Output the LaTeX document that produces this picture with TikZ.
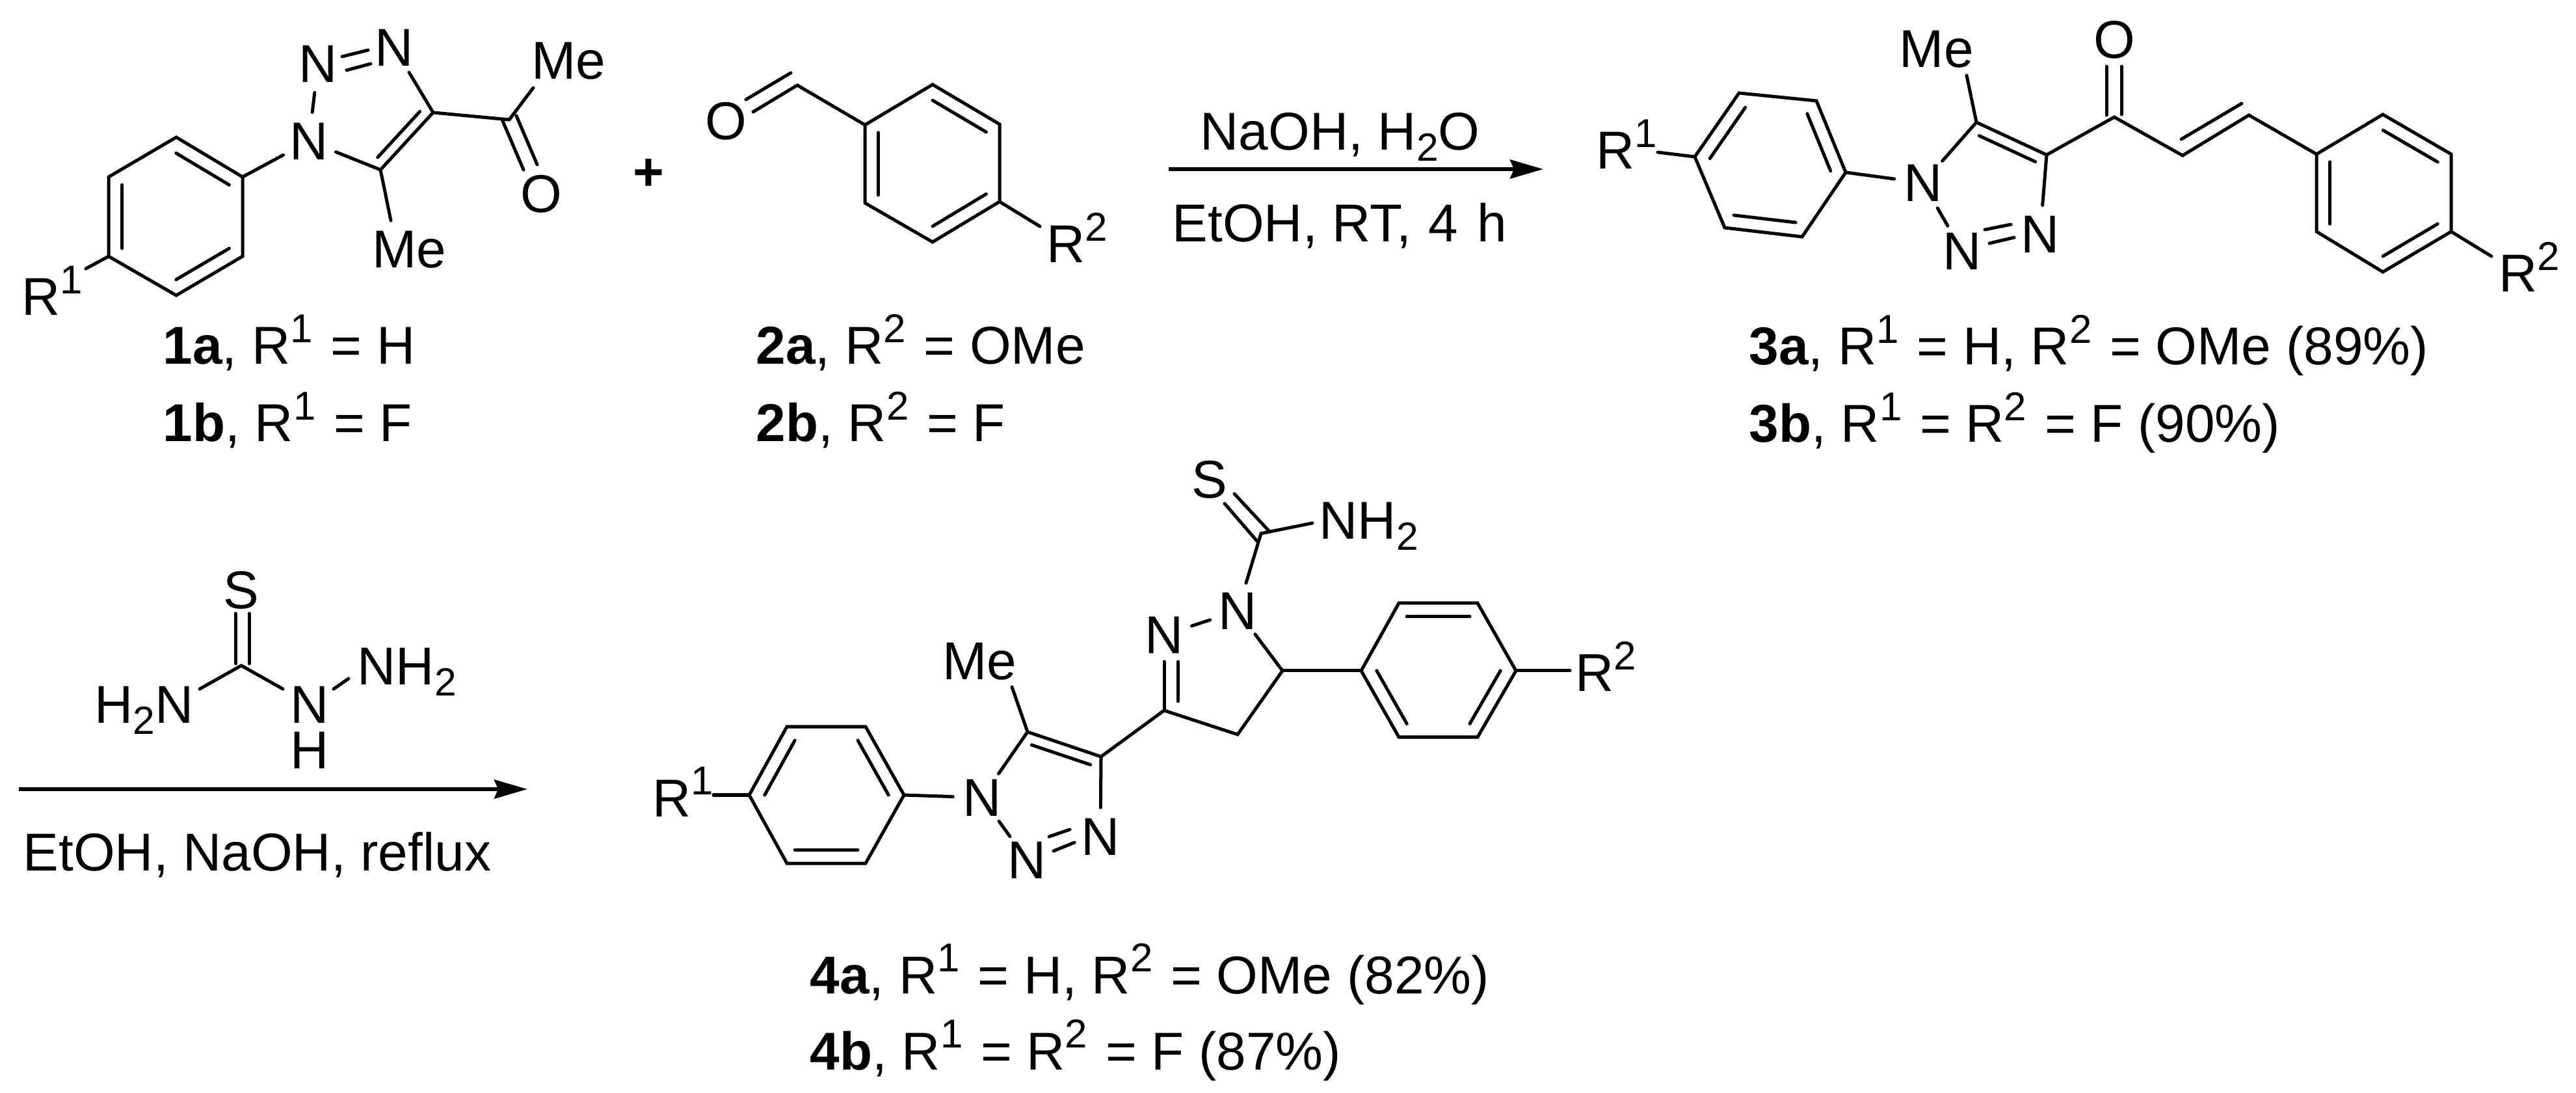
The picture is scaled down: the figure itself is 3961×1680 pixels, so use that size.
\documentclass[tikz,border=0pt]{standalone}
\usepackage{fontspec}
\setmainfont{Liberation Sans}
\usetikzlibrary{calc,arrows.meta}
\newcommand{\Sp}[1]{\raisebox{9.5pt}{\fontsize{17.6pt}{17.6pt}\selectfont #1}\kern1.4pt\relax}
\newcommand{\Sb}[1]{\raisebox{-4.8pt}{\fontsize{17.2pt}{17.2pt}\selectfont #1}}
\newcommand{\arom}[3]{\draw[inner] ($(#1)!.8!(#2)$) -- ($(#1)!.8!(#3)$);}
\tikzset{
  bond/.style={line width=0.05cm,line cap=round,line join=miter,black},
  inner/.style={bond},
  rxn/.style={line width=0.058cm,black,-{Stealth[length=0.51cm,width=0.29cm,inset=0.06cm]}},
  atom/.style={circle,inner sep=0pt,minimum size=0.88cm,font=\fontsize{23.3pt}{23.3pt}\selectfont},
  txt/.style={anchor=base west,inner sep=0pt,font=\fontsize{23.3pt}{23.3pt}\selectfont},
}
\begin{document}
\begin{tikzpicture}[x=0.01cm,y=-0.01cm]
\path[use as bounding box,fill=white] (0,0) rectangle (3961,1680);
% ---------- compound 1
\coordinate (a1) at (271,211); \coordinate (a2) at (373,272); \coordinate (a3) at (373,394);
\coordinate (a4) at (271,454); \coordinate (a5) at (167,394); \coordinate (a6) at (167,272);
\coordinate (ac) at (270,333);
\coordinate (ac4) at (666,173); \coordinate (ac5) at (585,261); \coordinate (atc) at (564,165);
\coordinate (aco) at (783,184);
\node[atom] (an1) at (475,217) {N};
\node[atom] (an2) at (489,98) {N};
\node[atom] (an3) at (606,73) {N};
\node[atom] (ao) at (832,298) {O};
\node[txt] (ame1) at (817,122) {Me};
\node[txt] (ame2) at (572,412) {Me};
\node[txt] (ar1) at (33,485) {R\Sp{1}};
\coordinate (ame1e) at (820,135); \coordinate (ame2e) at (601,339); \coordinate (ar1e) at (132,413);
\coordinate (ann1) at (526,87); \coordinate (ann2) at (566,77); \coordinate (ann3) at (533,108); \coordinate (ann4) at (570,98);
\coordinate (aco1) at (773,186); \coordinate (aco2) at (805,261); \coordinate (aco3) at (794,178); \coordinate (aco4) at (826,253);
\draw[bond] (a1)--(a2)--(a3)--(a4)--(a5)--(a6)--cycle;
\arom{ac}{a1}{a2} \arom{ac}{a3}{a4} \arom{ac}{a5}{a6}
\draw[bond] (a2)--(an1); \draw[bond] (an1)--(an2); \draw[bond] (an3)--(ac4);
\draw[bond] (ann1)--(ann2); \draw[bond] (ann3)--(ann4);
\draw[bond] (ac4)--(ac5); \draw[bond] (ac5)--(an1); \arom{atc}{ac4}{ac5}
\draw[bond] (ac5)--(ame2e); \draw[bond] (ac4)--(aco); \draw[bond] (aco)--(ame1e);
\draw[bond] (aco1)--(aco2); \draw[bond] (aco3)--(aco4);
\draw[bond] (a5)--(ar1e);
\node[txt] (l1a) at (250,560) {\textbf{1a}, R\Sp{1} = H};
\node[txt] (l1b) at (250,679) {\textbf{1b}, R\Sp{1} = F};
\node[anchor=center,inner sep=0pt,font=\fontsize{23.3pt}{23.3pt}\selectfont\bfseries] (plus) at (997,268) {+};
% ---------- compound 2
\coordinate (b1) at (1434,130); \coordinate (b2) at (1537,191); \coordinate (b3) at (1537,310);
\coordinate (b4) at (1434,372); \coordinate (b5) at (1330,312); \coordinate (b6) at (1330,192);
\coordinate (bc) at (1434,251); \coordinate (bcho) at (1226,131);
\coordinate (bo1) at (1226,131); \coordinate (bo2) at (1158,172); \coordinate (bo3) at (1216,112); \coordinate (bo4) at (1147,153);
\coordinate (br2e) at (1599,348);
\node[atom] (bo) at (1116,186) {O};
\node[txt] (br2) at (1609,404) {R\Sp{2}};
\draw[bond] (b1)--(b2)--(b3)--(b4)--(b5)--(b6)--cycle;
\arom{bc}{b1}{b2} \arom{bc}{b3}{b4} \arom{bc}{b5}{b6}
\draw[bond] (b6)--(bcho); \draw[bond] (bo1)--(bo2); \draw[bond] (bo3)--(bo4); \draw[bond] (b3)--(br2e);
\node[txt] (l2a) at (1162,560) {\textbf{2a}, R\Sp{2} = OMe};
\node[txt] (l2b) at (1162,679) {\textbf{2b}, R\Sp{2} = F};
% ---------- arrow 1
\coordinate (ra0) at (1797,260); \coordinate (ra1) at (2373,260);
\draw[rxn] (ra0)--(ra1);
\node[txt] (ra2) at (1845,231) {NaOH, H\Sb{2}O};
\node[txt] (ra3) at (1802,372) {EtOH, RT, \kern1pt 4\kern2pt\ h};
% ---------- compound 3
\coordinate (c1) at (2674,143); \coordinate (c2) at (2793,155); \coordinate (c3) at (2838,265);
\coordinate (c4) at (2771,364); \coordinate (c5) at (2652,350); \coordinate (c6) at (2606,241);
\coordinate (cc) at (2722,254);
\coordinate (cc5) at (3039,188); \coordinate (cc4) at (3147,238); \coordinate (ctc) at (3060,291);
\coordinate (cco) at (3251,180); \coordinate (cca) at (3356,239); \coordinate (ccb) at (3458,177);
\coordinate (cva) at (3354,214); \coordinate (cvb) at (3447,159);
\coordinate (coa) at (3239,177); \coordinate (cob) at (3239,102); \coordinate (coc) at (3262,176); \coordinate (cod) at (3262,102);
\coordinate (d1) at (3562,237); \coordinate (d2) at (3664,176); \coordinate (d3) at (3769,237);
\coordinate (d4) at (3769,356); \coordinate (d5) at (3664,418); \coordinate (d6) at (3562,356);
\coordinate (dc) at (3665,297);
\coordinate (cme) at (3024,116); \coordinate (cr1e) at (2549,234); \coordinate (cr2e) at (3831,394);
\coordinate (cnn1) at (3052,353); \coordinate (cnn2) at (3092,345); \coordinate (cnn3) at (3059,374); \coordinate (cnn4) at (3097,365);
\node[atom] (cn1) at (2957,281) {N};
\node[atom] (cn2) at (3017,386) {N};
\node[atom] (cn3) at (3137,360) {N};
\node[atom] (co) at (3251,61) {O};
\node[txt] (cmet) at (2920,104) {Me};
\node[txt] (cr1) at (2454,260) {R\Sp{1}};
\node[txt] (cr2) at (3842,449) {R\Sp{2}};
\draw[bond] (c1)--(c2)--(c3)--(c4)--(c5)--(c6)--cycle;
\arom{cc}{c1}{c6} \arom{cc}{c2}{c3} \arom{cc}{c4}{c5}
\draw[bond] (c3)--(cn1); \draw[bond] (c6)--(cr1e); \draw[bond] (cn1)--(cn2); \draw[bond] (cc5)--(cn1);
\draw[bond] (cc5)--(cc4); \arom{ctc}{cc5}{cc4}
\draw[bond] (cc5)--(cme); \draw[bond] (cc4)--(cn3);
\draw[bond] (cnn1)--(cnn2); \draw[bond] (cnn3)--(cnn4);
\draw[bond] (cc4)--(cco); \draw[bond] (coa)--(cob); \draw[bond] (coc)--(cod);
\draw[bond] (cco)--(cca)--(ccb)--(d1); \draw[bond] (cva)--(cvb);
\draw[bond] (d1)--(d2)--(d3)--(d4)--(d5)--(d6)--cycle;
\arom{dc}{d2}{d3} \arom{dc}{d4}{d5} \arom{dc}{d6}{d1}
\draw[bond] (d4)--(cr2e);
\node[txt] (l3a) at (2689,561) {\textbf{3a}, R\Sp{1} = H, R\Sp{2} = OMe (89\%)};
\node[txt] (l3b) at (2689,680) {\textbf{3b}, R\Sp{1} = R\Sp{2} = F (90\%)};
% ---------- thiosemicarbazide
\coordinate (tc) at (371,1023);
\coordinate (ts1) at (362,943); \coordinate (ts2) at (362,1020); \coordinate (ts3) at (383,943); \coordinate (ts4) at (383,1020);
\coordinate (tl) at (307,1059); \coordinate (tr) at (435,1059); \coordinate (tn1) at (513,1059); \coordinate (tn2) at (536,1043);
\node[atom] (ts) at (371,907) {S};
\node[txt] (th2n) at (145,1112) {H\Sb{2}N};
\node[txt] (tnh) at (446,1112) {N};
\node[txt] (th) at (446,1182) {H};
\node[txt] (tnh2) at (549,1053) {NH\Sb{2}};
\draw[bond] (ts1)--(ts2); \draw[bond] (ts3)--(ts4);
\draw[bond] (tc)--(tl); \draw[bond] (tc)--(tr); \draw[bond] (tn1)--(tn2);
% ---------- arrow 2
\coordinate (rb0) at (29,1213); \coordinate (rb1) at (811,1213);
\draw[rxn] (rb0)--(rb1);
\node[txt] (rb2) at (35,1338) {EtOH, NaOH, reflux};
% ---------- compound 4
\coordinate (e1) at (1152,1222); \coordinate (e2) at (1210,1117); \coordinate (e3) at (1331,1117);
\coordinate (e4) at (1390,1222); \coordinate (e5) at (1331,1327); \coordinate (e6) at (1210,1327);
\coordinate (ec) at (1271,1222);
\coordinate (ec5) at (1580,1125); \coordinate (ec4) at (1693,1163); \coordinate (etc) at (1611,1225);
\coordinate (ep3) at (1790,1092); \coordinate (ep4) at (1903,1129); \coordinate (ep5) at (1972,1031);
\coordinate (epa) at (1790,1092); \coordinate (epb) at (1790,1017); \coordinate (epc) at (1811,1078); \coordinate (epd) at (1811,1017);
\coordinate (ecs) at (1939,820);
\coordinate (esa) at (1883,774); \coordinate (esb) at (1934,833); \coordinate (esc) at (1898,759); \coordinate (esd) at (1952,817);
\coordinate (enh) at (2018,804);
\coordinate (f1) at (2093,1031); \coordinate (f2) at (2151,927); \coordinate (f3) at (2272,927);
\coordinate (f4) at (2331,1031); \coordinate (f5) at (2272,1133); \coordinate (f6) at (2151,1133);
\coordinate (fc) at (2212,1030);
\coordinate (eme) at (1556,1056); \coordinate (er1e) at (1097,1222); \coordinate (er2e) at (2414,1031);
\coordinate (enn1) at (1613,1286); \coordinate (enn2) at (1645,1275); \coordinate (enn3) at (1620,1308); \coordinate (enn4) at (1652,1295);
\node[atom] (en1) at (1510,1226) {N};
\node[atom] (en2) at (1579,1322) {N};
\node[atom] (en3) at (1692,1286) {N};
\node[atom] (en4) at (1790,976) {N};
\node[atom] (en5) at (1903,939) {N};
\node[atom] (es) at (1860,737) {S};
\node[txt] (emet) at (1449,1045) {Me};
\node[txt] (er1) at (1003,1255) {R\Sp{1}};
\node[txt] (er2) at (2422,1063) {R\Sp{2}};
\node[txt] (enh2) at (2028,829) {NH\Sb{2}};
\draw[bond] (e1)--(e2)--(e3)--(e4)--(e5)--(e6)--cycle;
\arom{ec}{e1}{e2} \arom{ec}{e3}{e4} \arom{ec}{e5}{e6}
\draw[bond] (e1)--(er1e); \draw[bond] (e4)--(en1); \draw[bond] (ec5)--(en1); \draw[bond] (en1)--(en2);
\draw[bond] (ec5)--(ec4); \arom{etc}{ec5}{ec4}
\draw[bond] (ec5)--(eme); \draw[bond] (ec4)--(en3);
\draw[bond] (enn1)--(enn2); \draw[bond] (enn3)--(enn4);
\draw[bond] (ec4)--(ep3); \draw[bond] (ep3)--(ep4)--(ep5);
\draw[bond] (epa)--(epb); \draw[bond] (epc)--(epd);
\draw[bond] (en4)--(en5); \draw[bond] (en5)--(ep5);
\draw[bond] (ecs)--(en5); \draw[bond] (ecs)--(enh);
\draw[bond] (esa)--(esb); \draw[bond] (esc)--(esd);
\draw[bond] (ep5)--(f1);
\draw[bond] (f1)--(f2)--(f3)--(f4)--(f5)--(f6)--cycle;
\arom{fc}{f2}{f3} \arom{fc}{f4}{f5} \arom{fc}{f6}{f1}
\draw[bond] (f4)--(er2e);
\node[txt] (l4a) at (1245,1527) {\textbf{4a}, R\Sp{1} = H, R\Sp{2} = OMe (82\%)};
\node[txt] (l4b) at (1245,1644) {\textbf{4b}, R\Sp{1} = R\Sp{2} = F (87\%)};
\end{tikzpicture}
\end{document}
